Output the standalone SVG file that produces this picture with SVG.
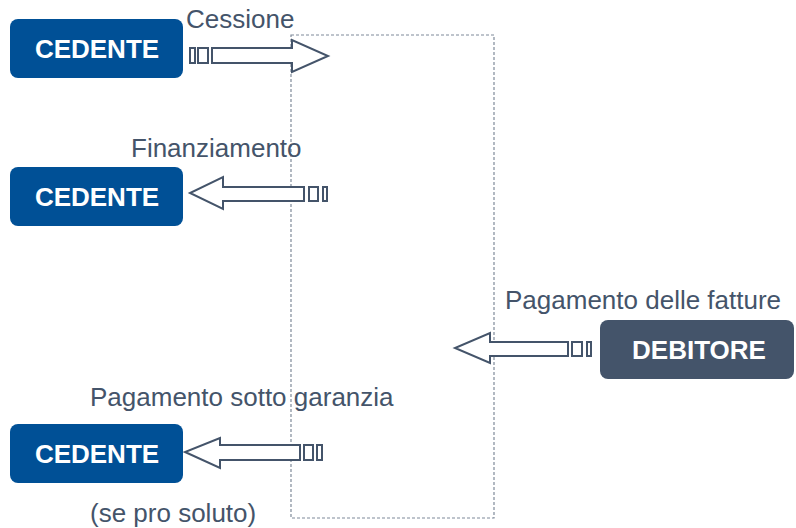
<svg xmlns="http://www.w3.org/2000/svg" width="796" height="528" viewBox="0 0 796 528">
<style>
.lbl{font-family:"Liberation Sans",Arial,sans-serif;font-size:26px;fill:#44546a}
.nt{font-family:"Liberation Sans",Arial,sans-serif;font-size:26px;font-weight:bold;fill:#ffffff;text-anchor:middle}
.ced{fill:#005096}
.deb{fill:#44546a}
.arr{fill:#ffffff;stroke:#44546a;stroke-width:2;stroke-linejoin:miter}
</style>
<rect width="796" height="528" fill="#ffffff"/>
<rect id="zone" x="291" y="35" width="203" height="483" fill="none" stroke="#7f8a99" stroke-width="1.2" stroke-dasharray="3,2"/>
<g id="cedente1"><rect class="ced" x="10" y="19" width="173" height="59" rx="8"/><text class="nt" x="97" y="58">CEDENTE</text></g>
<g id="cedente2"><rect class="ced" x="10" y="167" width="173" height="59" rx="8"/><text class="nt" x="97" y="206">CEDENTE</text></g>
<g id="cedente3"><rect class="ced" x="10" y="424" width="173" height="59" rx="8"/><text class="nt" x="97" y="463">CEDENTE</text></g>
<g id="debitore"><rect class="deb" x="600" y="320" width="194" height="59" rx="8"/><text class="nt" x="699" y="359">DEBITORE</text></g>
<g id="connectors">
<g id="a1">
<rect class="arr" x="190" y="48" width="5" height="15"/>
<rect class="arr" x="198" y="48" width="10" height="15"/>
<polygon class="arr" points="212,48 292,48 292,40 328,56 292,72 292,63 212,63"/>
</g>
<g id="a2">
<polygon class="arr" points="304,187 223,187 223,177 190,193 223,209 223,201 304,201"/>
<rect class="arr" x="309" y="187" width="9" height="14"/>
<rect class="arr" x="323" y="187" width="4" height="14"/>
</g>
<g id="a3">
<polygon class="arr" points="568,342 490,342 490,333 455,348 490,363 490,356 568,356"/>
<rect class="arr" x="572" y="342" width="10" height="14"/>
<rect class="arr" x="587" y="342" width="4" height="14"/>
</g>
<g id="a4">
<polygon class="arr" points="300,445 220,445 220,438 185,452 220,468 220,460 300,460"/>
<rect class="arr" x="304" y="445" width="9" height="15"/>
<rect class="arr" x="317" y="445" width="5" height="15"/>
</g>
</g>
<text class="lbl" x="186" y="28">Cessione</text>
<text class="lbl" x="131" y="157">Finanziamento</text>
<text class="lbl" x="505" y="309">Pagamento delle fatture</text>
<text class="lbl" x="90" y="406">Pagamento sotto garanzia</text>
<text class="lbl" x="90" y="522">(se pro soluto)</text>
</svg>
